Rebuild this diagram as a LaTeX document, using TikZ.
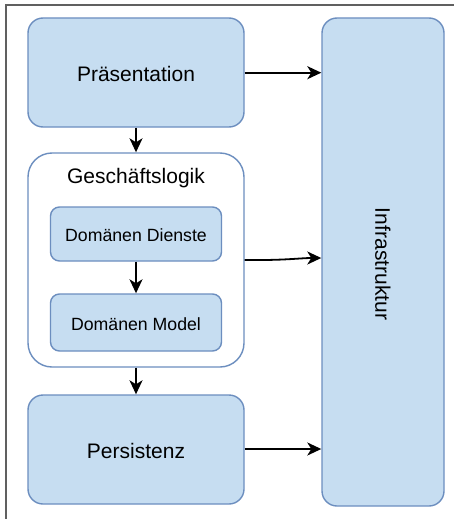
\documentclass[tikz,border=0pt]{standalone}
\usepackage{fontspec}
\setmainfont{Liberation Sans}
\usetikzlibrary{arrows.meta}
\definecolor{boxfill}{HTML}{C6DDF1}
\definecolor{boxline}{HTML}{6C8EBF}
\definecolor{framegray}{HTML}{606060}
\tikzset{
  layer/.style={draw=boxline, fill=boxfill, line width=1.4pt, rounded corners=15pt, inner sep=0pt},
  group/.style={draw=boxline, fill=white, line width=1.4pt, rounded corners=24pt, inner sep=0pt},
  inner/.style={draw=boxline, fill=boxfill, line width=1.4pt, rounded corners=9pt, inner sep=0pt},
  conn/.style={line width=1.8pt, -{Stealth[length=14pt,width=13pt,inset=4pt]}},
  bigtxt/.style={font=\fontsize{21}{24}\selectfont},
  smalltxt/.style={font=\fontsize{17.7}{20}\selectfont}
}
\begin{document}
\begin{tikzpicture}[x=1pt,y=-1pt]
\useasboundingbox (0,0) rectangle (454,519);
\draw[framegray, line width=1.2pt] (6,519) -- (6,5) -- (454,5);

\node[layer, minimum width=216pt, minimum height=109pt] (pres) at (136,72.5) {};
\node[bigtxt] at (136,74) {Präsentation};

\node[layer, minimum width=122pt, minimum height=488pt] (infra) at (383,262) {};
\node[bigtxt, rotate=-90] at (383,264) {Infrastruktur};

\node[group, minimum width=216pt, minimum height=214pt] (gl) at (136,260) {};
\node[bigtxt] at (136,178) {Geschäftslogik};

\node[inner, minimum width=171pt, minimum height=54pt] (dd) at (136,234) {};
\node[smalltxt] at (136,235) {Domänen Dienste};

\node[inner, minimum width=171pt, minimum height=57pt] (dm) at (136,322.5) {};
\node[smalltxt] at (136,324) {Domänen Model};

\node[layer, minimum width=216pt, minimum height=109pt] (pers) at (136,449.5) {};
\node[bigtxt] at (136,451) {Persistenz};

\draw[conn] (pres.east |- 0,72.7) -- (infra.west |- 0,72.7);
\draw[conn] (pres.south) -- (gl.north);
\draw[conn] (gl.east) .. controls (285,260.5) and (300,258) .. (infra.west |- 0,258);
\draw[conn] (dd.south) -- (dm.north);
\draw[conn] (gl.south) -- (pers.north);
\draw[conn] (pers.east |- 0,449) -- (infra.west |- 0,449);
\end{tikzpicture}
\end{document}
